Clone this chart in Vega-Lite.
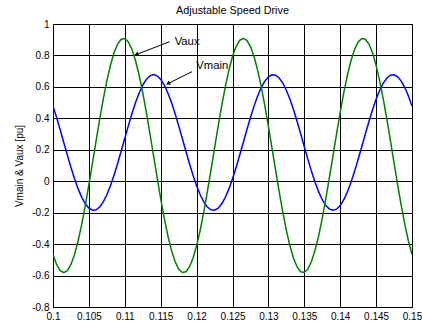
{
  "$schema": "https://vega.github.io/schema/vega-lite/v6.json",
  "width": 359,
  "height": 283,
  "autosize": {"type": "none"},
  "padding": {"left": 53, "top": 24, "right": 10, "bottom": 17},
  "background": "white",
  "config": {
    "view": {"stroke": "black", "strokeWidth": 1},
    "font": "Liberation Sans",
    "axis": {
      "labelFont": "Liberation Sans", "titleFont": "Liberation Sans",
      "labelColor": "black", "titleColor": "black",
      "grid": true, "gridColor": "black", "gridOpacity": 1, "gridWidth": 1,
      "ticks": false, "domain": false, "labelFontSize": 10,
      "titleFontWeight": "normal", "titleFontSize": 10,
      "labelFlush": false, "labelOverlap": false
    }
  },
  "title": {"text": "Adjustable Speed Drive", "font": "Liberation Sans", "fontSize": 10.8, "fontWeight": "normal", "color": "black", "anchor": "middle", "offset": 3},
  "datasets": {
    "wave": [
      {"t":0.1,"Vmain":0.4777,"Vaux":-0.466},
      {"t":0.1005,"Vmain":0.4053,"Vaux":-0.5297},
      {"t":0.101,"Vmain":0.3274,"Vaux":-0.5688},
      {"t":0.1015,"Vmain":0.2465,"Vaux":-0.582},
      {"t":0.102,"Vmain":0.1657,"Vaux":-0.5688},
      {"t":0.1025,"Vmain":0.0877,"Vaux":-0.5297},
      {"t":0.103,"Vmain":0.0153,"Vaux":-0.466},
      {"t":0.1035,"Vmain":-0.0489,"Vaux":-0.38},
      {"t":0.104,"Vmain":-0.1026,"Vaux":-0.2747},
      {"t":0.1045,"Vmain":-0.1439,"Vaux":-0.1539},
      {"t":0.105,"Vmain":-0.1715,"Vaux":-0.0219},
      {"t":0.1055,"Vmain":-0.1842,"Vaux":0.1167},
      {"t":0.106,"Vmain":-0.1816,"Vaux":0.2569},
      {"t":0.1065,"Vmain":-0.1639,"Vaux":0.3939},
      {"t":0.107,"Vmain":-0.1316,"Vaux":0.5226},
      {"t":0.1075,"Vmain":-0.086,"Vaux":0.6387},
      {"t":0.108,"Vmain":-0.0285,"Vaux":0.7379},
      {"t":0.1085,"Vmain":0.0386,"Vaux":0.8168},
      {"t":0.109,"Vmain":0.1132,"Vaux":0.8725},
      {"t":0.1095,"Vmain":0.1924,"Vaux":0.9031},
      {"t":0.11,"Vmain":0.2736,"Vaux":0.9075},
      {"t":0.1105,"Vmain":0.3538,"Vaux":0.8856},
      {"t":0.111,"Vmain":0.4302,"Vaux":0.8381},
      {"t":0.1115,"Vmain":0.5001,"Vaux":0.7666},
      {"t":0.112,"Vmain":0.5611,"Vaux":0.6738},
      {"t":0.1125,"Vmain":0.6108,"Vaux":0.563},
      {"t":0.113,"Vmain":0.6477,"Vaux":0.4379},
      {"t":0.1135,"Vmain":0.6704,"Vaux":0.3032},
      {"t":0.114,"Vmain":0.678,"Vaux":0.1635},
      {"t":0.1145,"Vmain":0.6704,"Vaux":0.0238},
      {"t":0.115,"Vmain":0.6477,"Vaux":-0.1109},
      {"t":0.1155,"Vmain":0.6108,"Vaux":-0.236},
      {"t":0.116,"Vmain":0.5611,"Vaux":-0.3468},
      {"t":0.1165,"Vmain":0.5001,"Vaux":-0.4396},
      {"t":0.117,"Vmain":0.4302,"Vaux":-0.5111},
      {"t":0.1175,"Vmain":0.3538,"Vaux":-0.5586},
      {"t":0.118,"Vmain":0.2736,"Vaux":-0.5805},
      {"t":0.1185,"Vmain":0.1924,"Vaux":-0.5761},
      {"t":0.119,"Vmain":0.1132,"Vaux":-0.5455},
      {"t":0.1195,"Vmain":0.0386,"Vaux":-0.4898},
      {"t":0.12,"Vmain":-0.0285,"Vaux":-0.4109},
      {"t":0.1205,"Vmain":-0.086,"Vaux":-0.3117},
      {"t":0.121,"Vmain":-0.1316,"Vaux":-0.1956},
      {"t":0.1215,"Vmain":-0.1639,"Vaux":-0.0669},
      {"t":0.122,"Vmain":-0.1816,"Vaux":0.0701},
      {"t":0.1225,"Vmain":-0.1842,"Vaux":0.2103},
      {"t":0.123,"Vmain":-0.1715,"Vaux":0.3489},
      {"t":0.1235,"Vmain":-0.1439,"Vaux":0.4809},
      {"t":0.124,"Vmain":-0.1026,"Vaux":0.6017},
      {"t":0.1245,"Vmain":-0.0489,"Vaux":0.707},
      {"t":0.125,"Vmain":0.0153,"Vaux":0.793},
      {"t":0.1255,"Vmain":0.0877,"Vaux":0.8567},
      {"t":0.126,"Vmain":0.1657,"Vaux":0.8958},
      {"t":0.1265,"Vmain":0.2465,"Vaux":0.909},
      {"t":0.127,"Vmain":0.3274,"Vaux":0.8958},
      {"t":0.1275,"Vmain":0.4053,"Vaux":0.8567},
      {"t":0.128,"Vmain":0.4777,"Vaux":0.793},
      {"t":0.1285,"Vmain":0.5419,"Vaux":0.707},
      {"t":0.129,"Vmain":0.5956,"Vaux":0.6017},
      {"t":0.1295,"Vmain":0.6369,"Vaux":0.4809},
      {"t":0.13,"Vmain":0.6644,"Vaux":0.3489},
      {"t":0.1305,"Vmain":0.6772,"Vaux":0.2103},
      {"t":0.131,"Vmain":0.6746,"Vaux":0.0701},
      {"t":0.1315,"Vmain":0.6569,"Vaux":-0.0669},
      {"t":0.132,"Vmain":0.6246,"Vaux":-0.1956},
      {"t":0.1325,"Vmain":0.579,"Vaux":-0.3117},
      {"t":0.133,"Vmain":0.5215,"Vaux":-0.4109},
      {"t":0.1335,"Vmain":0.4544,"Vaux":-0.4898},
      {"t":0.134,"Vmain":0.3798,"Vaux":-0.5455},
      {"t":0.1345,"Vmain":0.3006,"Vaux":-0.5761},
      {"t":0.135,"Vmain":0.2194,"Vaux":-0.5805},
      {"t":0.1355,"Vmain":0.1392,"Vaux":-0.5586},
      {"t":0.136,"Vmain":0.0628,"Vaux":-0.5111},
      {"t":0.1365,"Vmain":-0.0071,"Vaux":-0.4396},
      {"t":0.137,"Vmain":-0.0681,"Vaux":-0.3468},
      {"t":0.1375,"Vmain":-0.1178,"Vaux":-0.236},
      {"t":0.138,"Vmain":-0.1547,"Vaux":-0.1109},
      {"t":0.1385,"Vmain":-0.1774,"Vaux":0.0238},
      {"t":0.139,"Vmain":-0.185,"Vaux":0.1635},
      {"t":0.1395,"Vmain":-0.1774,"Vaux":0.3032},
      {"t":0.14,"Vmain":-0.1547,"Vaux":0.4379},
      {"t":0.1405,"Vmain":-0.1178,"Vaux":0.563},
      {"t":0.141,"Vmain":-0.0681,"Vaux":0.6738},
      {"t":0.1415,"Vmain":-0.0071,"Vaux":0.7666},
      {"t":0.142,"Vmain":0.0628,"Vaux":0.8381},
      {"t":0.1425,"Vmain":0.1392,"Vaux":0.8856},
      {"t":0.143,"Vmain":0.2194,"Vaux":0.9075},
      {"t":0.1435,"Vmain":0.3006,"Vaux":0.9031},
      {"t":0.144,"Vmain":0.3798,"Vaux":0.8725},
      {"t":0.1445,"Vmain":0.4544,"Vaux":0.8168},
      {"t":0.145,"Vmain":0.5215,"Vaux":0.7379},
      {"t":0.1455,"Vmain":0.579,"Vaux":0.6387},
      {"t":0.146,"Vmain":0.6246,"Vaux":0.5226},
      {"t":0.1465,"Vmain":0.6569,"Vaux":0.3939},
      {"t":0.147,"Vmain":0.6746,"Vaux":0.2569},
      {"t":0.1475,"Vmain":0.6772,"Vaux":0.1167},
      {"t":0.148,"Vmain":0.6644,"Vaux":-0.0219},
      {"t":0.1485,"Vmain":0.6369,"Vaux":-0.1539},
      {"t":0.149,"Vmain":0.5956,"Vaux":-0.2747},
      {"t":0.1495,"Vmain":0.5419,"Vaux":-0.38},
      {"t":0.15,"Vmain":0.4777,"Vaux":-0.466}
    ],
    "notes": [
      {"series":"Vaux","t":0.11624,"value":0.8874,"t2":0.1117,"value2":0.8073,"lt":0.11694,"lv":0.8874},
      {"series":"Vmain","t":0.11936,"value":0.6966,"t2":0.1161,"value2":0.6228,"lt":0.11996,"lv":0.7329}
    ]
  },
  "encoding": {
    "x": {"field": "t", "type": "quantitative",
      "scale": {"domain": [0.1, 0.15], "nice": false, "zero": false},
      "axis": {"title": null, "values": [0.1,0.105,0.11,0.115,0.12,0.125,0.13,0.135,0.14,0.145,0.15], "labelPadding": 4,
        "labelExpr": "replace(format(datum.value, '~g'), '\u2212', '-')"}},
    "y": {"field": "value", "type": "quantitative",
      "scale": {"domain": [-0.8, 1], "nice": false, "zero": false},
      "axis": {"title": "Vmain & Vaux [pu]", "values": [-0.8,-0.6,-0.4,-0.2,0,0.2,0.4,0.6,0.8,1], "labelPadding": 4, "titlePadding": 7,
        "labelExpr": "replace(format(datum.value, '~g'), '\u2212', '-')"}}
  },
  "layer": [
    {
      "data": {"name": "wave"},
      "transform": [{"fold": ["Vmain", "Vaux"], "as": ["series", "value"]}],
      "mark": {"type": "line", "strokeWidth": 1.5, "clip": true},
      "encoding": {
        "color": {"field": "series", "type": "nominal", "scale": {"domain": ["Vmain", "Vaux"], "range": ["#0000ff", "#008000"]}, "legend": null}
      }
    },
    {
      "data": {"name": "notes"},
      "mark": {"type": "rule", "color": "black", "strokeWidth": 1},
      "encoding": {
        "x2": {"field": "t2"},
        "y2": {"field": "value2"}
      }
    },
    {
      "data": {"name": "notes"},
      "transform": [{"filter": "datum.series == 'Vaux'"}],
      "mark": {"type": "point", "shape": "triangle", "filled": true, "color": "black", "size": 22, "angle": 249, "opacity": 1},
      "encoding": {
        "x": {"field": "t2", "type": "quantitative"},
        "y": {"field": "value2", "type": "quantitative"}
      }
    },
    {
      "data": {"name": "notes"},
      "transform": [{"filter": "datum.series == 'Vmain'"}],
      "mark": {"type": "point", "shape": "triangle", "filled": true, "color": "black", "size": 22, "angle": 244, "opacity": 1},
      "encoding": {
        "x": {"field": "t2", "type": "quantitative"},
        "y": {"field": "value2", "type": "quantitative"}
      }
    },
    {
      "data": {"name": "notes"},
      "mark": {"type": "text", "align": "left", "baseline": "middle", "fontSize": 11.3, "color": "black", "font": "Liberation Sans"},
      "encoding": {
        "x": {"field": "lt", "type": "quantitative"},
        "y": {"field": "lv", "type": "quantitative"},
        "text": {"field": "series"}
      }
    }
  ]
}
